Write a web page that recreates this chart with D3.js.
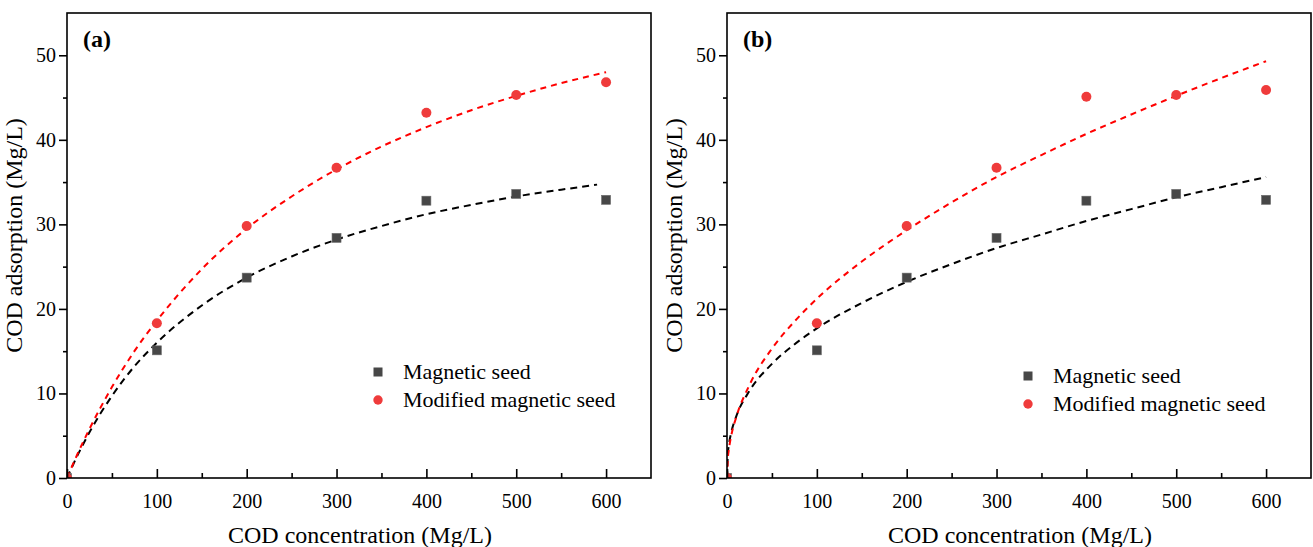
<!DOCTYPE html>
<html>
<head>
<meta charset="utf-8">
<script src="https://cdn.jsdelivr.net/npm/d3@7"></script>
<style>
  html, body { margin: 0; padding: 0; background: #fff; }
  svg { display: block; font-family: "Liberation Serif", "Times New Roman", serif; }
</style>
</head>
<body>
<svg id="chart" width="1313" height="547"></svg>
<script>
// Measured points: COD concentration (Mg/L) vs adsorbed COD (Mg/L)
const concentration = [0, 100, 200, 300, 400, 500, 600];
const seedA      = [0, 15.1, 23.7, 28.4, 32.8, 33.6, 32.9];
const modifiedA  = [0, 18.3, 29.8, 36.7, 43.2, 45.3, 46.8];
const seedB      = [0, 15.1, 23.7, 28.4, 32.8, 33.6, 32.9];
const modifiedB  = [0, 18.3, 29.8, 36.7, 45.1, 45.3, 45.9];

// Fitted isotherm curves, sampled along the concentration axis
const fitSeedXA     = [0, 10, 25, 50, 75, 100, 150, 200, 250, 300, 350, 400, 450, 500, 550, 590];
const fitSeedYA     = [0, 2.3, 5.4, 9.7, 13.2, 16.0, 20.4, 23.7, 26.2, 28.2, 29.8, 31.2, 32.3, 33.3, 34.1, 34.7];
const fitModXA      = [0, 10, 25, 50, 75, 100, 150, 200, 250, 300, 350, 400, 450, 500, 550, 600];
const fitModYA      = [0, 2.45, 5.8, 10.75, 15.0, 18.6, 24.7, 29.5, 33.3, 36.5, 39.2, 41.5, 43.5, 45.2, 46.7, 48.0];
const fitXB         = [0, 1, 2, 5, 10, 25, 50, 75, 100, 150, 200, 250, 300, 350, 400, 450, 500, 550, 600];
const fitSeedYB     = [0, 2.9, 3.85, 5.5, 7.2, 10.3, 13.5, 15.8, 17.7, 20.7, 23.2, 25.3, 27.2, 28.8, 30.4, 31.8, 33.2, 34.4, 35.6];
const fitModYB      = [0, 2.4, 3.3, 5.15, 7.1, 11.0, 15.3, 18.5, 21.2, 25.6, 29.3, 32.6, 35.6, 38.2, 40.7, 43.0, 45.2, 47.3, 49.3];

// Axis ticks and labels
const xTicks = [0, 100, 200, 300, 400, 500, 600];
const xMinorTicks = [50, 150, 250, 350, 450, 550];
const yTicks = [0, 10, 20, 30, 40, 50];
const yMinorTicks = [5, 15, 25, 35, 45];
const xDomain = [0, 650];
const yDomain = [0, 55];
const xTitle = "COD concentration (Mg/L)";
const yTitle = "COD adsorption (Mg/L)";
const seriesNames = ["Magnetic seed", "Modified magnetic seed"];
const panelTags = ["(a)", "(b)"];

const seedColor = "#474747";
const modColor = "#ef3b3b";
const serif = "Liberation Serif, Times New Roman, serif";

const svg = d3.select("#chart");

function drawPanel(cfg) {
  const { left, right, top, bottom, tag, seed, mod, fitSeed, fitMod, legend, id } = cfg;
  const x = d3.scaleLinear().domain(xDomain).range([left, right]);
  const y = d3.scaleLinear().domain(yDomain).range([bottom, top]);
  const g = svg.append("g");

  g.append("clipPath").attr("id", id)
    .append("rect").attr("x", left).attr("y", top)
    .attr("width", right - left).attr("height", bottom - top);

  const line = d3.line().x(d => x(d[0])).y(d => y(d[1])).curve(d3.curveMonotoneX);
  const plot = g.append("g").attr("clip-path", `url(#${id})`);

  plot.append("path").datum(d3.zip(fitSeed[0], fitSeed[1]))
    .attr("d", line).attr("fill", "none").attr("stroke", "#000")
    .attr("stroke-width", 2).attr("stroke-dasharray", "7,5");
  plot.append("path").datum(d3.zip(fitMod[0], fitMod[1]))
    .attr("d", line).attr("fill", "none").attr("stroke", "#ff0000")
    .attr("stroke-width", 2).attr("stroke-dasharray", "6,5");

  const sq = 9;
  plot.selectAll("rect.seed").data(d3.zip(concentration, seed)).join("rect")
    .attr("class", "seed")
    .attr("x", d => x(d[0]) - sq / 2).attr("y", d => y(d[1]) - sq / 2)
    .attr("width", sq).attr("height", sq)
    .attr("fill", seedColor).attr("stroke", "#6a6a6a").attr("stroke-width", 0.6);
  plot.selectAll("circle.mod").data(d3.zip(concentration, mod)).join("circle")
    .attr("class", "mod")
    .attr("cx", d => x(d[0])).attr("cy", d => y(d[1])).attr("r", 5)
    .attr("fill", modColor);

  // frame
  g.append("rect").attr("x", left).attr("y", top)
    .attr("width", right - left).attr("height", bottom - top)
    .attr("fill", "none").attr("stroke", "#000").attr("stroke-width", 1.6);

  // x axis: ticks pointing inward
  const xAxis = g.append("g").attr("transform", `translate(0,${bottom})`)
    .call(d3.axisBottom(x).tickValues(xTicks).tickSize(-9).tickPadding(16).tickFormat(d3.format("d")));
  xAxis.select(".domain").remove();
  xAxis.selectAll(".tick line").attr("stroke-width", 1.6);
  xAxis.selectAll("text").attr("font-size", 20).attr("fill", "#000").attr("font-family", serif);
  g.append("g").attr("transform", `translate(0,${bottom})`)
    .call(d3.axisBottom(x).tickValues(xMinorTicks).tickSize(-5).tickFormat(""))
    .call(a => a.select(".domain").remove())
    .selectAll(".tick line").attr("stroke-width", 1.6);

  // y axis: ticks pointing outward
  const yAxis = g.append("g").attr("transform", `translate(${left},0)`)
    .call(d3.axisLeft(y).tickValues(yTicks).tickSize(8).tickPadding(3).tickFormat(d3.format("d")));
  yAxis.select(".domain").remove();
  yAxis.selectAll(".tick line").attr("stroke-width", 1.6);
  yAxis.selectAll("text").attr("font-size", 20).attr("fill", "#000").attr("font-family", serif);
  g.append("g").attr("transform", `translate(${left},0)`)
    .call(d3.axisLeft(y).tickValues(yMinorTicks).tickSize(4).tickFormat(""))
    .call(a => a.select(".domain").remove())
    .selectAll(".tick line").attr("stroke-width", 1.6);

  // titles
  g.append("text").attr("x", (left + right) / 2 + 1).attr("y", 543)
    .attr("text-anchor", "middle").attr("font-size", 24).text(xTitle);
  g.append("text")
    .attr("transform", `translate(${left - 45},${(top + bottom) / 2 - 10}) rotate(-90)`)
    .attr("text-anchor", "middle").attr("font-size", 24).text(yTitle);

  g.append("text").attr("x", left + 16).attr("y", top + 34)
    .attr("font-size", 24).attr("font-weight", "bold").text(tag);

  // legend
  const lg = g.append("g").attr("transform", `translate(${legend[0]},${legend[1]})`);
  lg.append("rect").attr("x", -4.5).attr("y", -4.5).attr("width", 9).attr("height", 9)
    .attr("fill", seedColor);
  lg.append("text").attr("x", 25).attr("y", 7).attr("font-size", 22).text(seriesNames[0]);
  lg.append("circle").attr("cx", 0).attr("cy", 28).attr("r", 4.7).attr("fill", modColor);
  lg.append("text").attr("x", 25).attr("y", 35).attr("font-size", 22).text(seriesNames[1]);
}

drawPanel({
  id: "clipA", left: 67, right: 651, top: 13, bottom: 478, tag: panelTags[0],
  seed: seedA, mod: modifiedA,
  fitSeed: [fitSeedXA, fitSeedYA], fitMod: [fitModXA, fitModYA],
  legend: [378, 372]
});
drawPanel({
  id: "clipB", left: 727, right: 1311, top: 13, bottom: 478, tag: panelTags[1],
  seed: seedB, mod: modifiedB,
  fitSeed: [fitXB, fitSeedYB], fitMod: [fitXB, fitModYB],
  legend: [1028, 376]
});
</script>
</body>
</html>
